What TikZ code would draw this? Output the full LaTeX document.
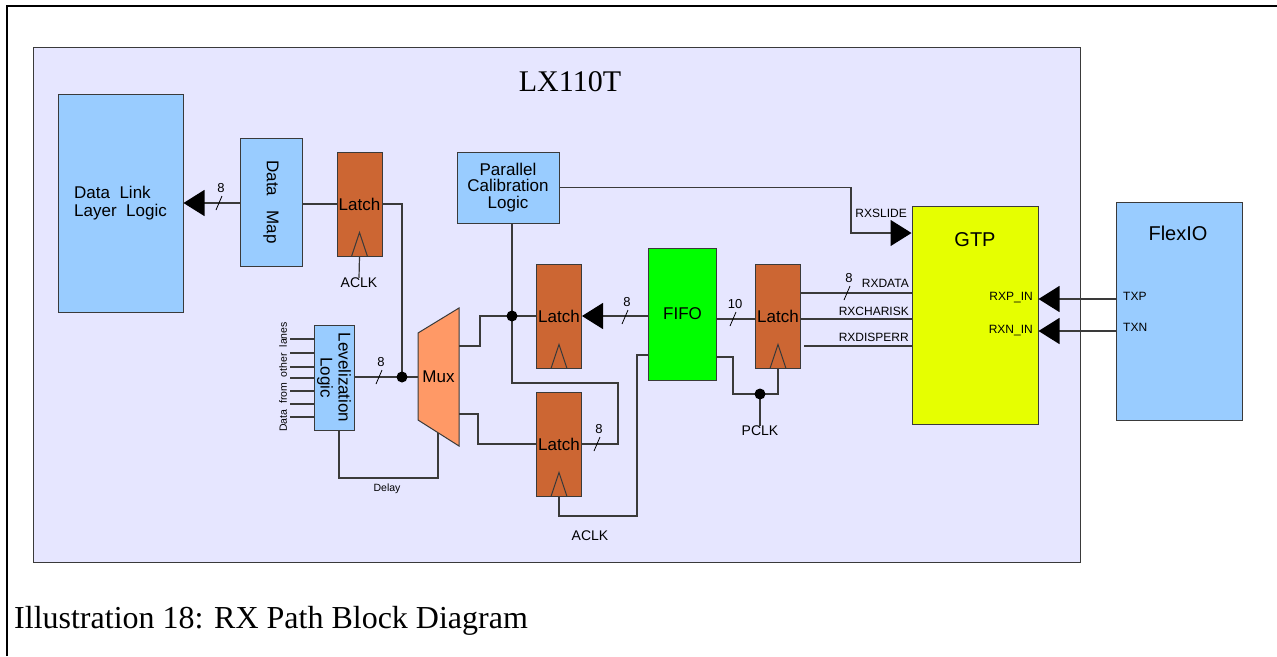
\documentclass[tikz,border=0pt]{standalone}
\usepackage{fontspec}
\setmainfont{Liberation Serif}
\setsansfont{Liberation Sans}
\usetikzlibrary{arrows.meta}
\definecolor{fpgabg}{HTML}{E6E6FF}
\definecolor{blkblue}{HTML}{99CCFF}
\definecolor{latchc}{HTML}{CC6633}
\definecolor{muxc}{HTML}{FF9966}
\definecolor{fifoc}{HTML}{00FF00}
\definecolor{gtpc}{HTML}{E6FF00}
\definecolor{wirec}{HTML}{3A3A3A}

\begin{document}
\begin{tikzpicture}[x=1pt, y=-1pt,
        every node/.style={font=\sffamily\fontsize{17}{18}\selectfont, inner sep=0pt},
        sig/.style={font=\sffamily\fontsize{12}{12}\selectfont},
        clkl/.style={font=\sffamily\fontsize{14}{14}\selectfont},
        busw/.style={font=\sffamily\fontsize{13}{13}\selectfont},
        tinyl/.style={font=\sffamily\fontsize{10.5}{10.5}\selectfont},
        boxl/.style={draw=wirec, line width=1pt},
        bluebox/.style={boxl, fill=blkblue},
        latchbox/.style={boxl, fill=latchc, minimum width=45pt, minimum height=104pt},
        wire/.style={draw=wirec, line width=1.2pt},
        arr/.style={wire, -{Triangle[length=21pt, width=26pt, color=black]}},
        busl/.style={draw=black, line width=0.8pt}
    ]
    \useasboundingbox (0,0) rectangle (1277,656);

    % =============== rahmen + FPGA ===============
    \draw[black, line width=1.5pt] (7,656) -- (7,6) -- (1277,6);
    \node[boxl, fill=fpgabg, minimum width=1047pt, minimum height=515pt] (fpga) at (556.5,304.5) {};
    \node[font=\rmfamily\fontsize{30}{30}\selectfont, anchor=base] (ttl) at (570,91) {LX110T};

    % =============== bloecke ===============
    \node[bluebox, minimum width=125pt, minimum height=218pt, align=left] (dll) at (120.5,203) {Data\ \ Link\\Layer\ \ Logic};
    \node[bluebox, minimum width=62pt, minimum height=128pt] (dmap) at (271,202) {};
    \node[rotate=-90] (dmapt) at (dmap.center) {Data\ \ \ Map};
    \node[latchbox] (latA) at (359.5,204) {Latch};
    \node[bluebox, minimum width=102pt, minimum height=71pt, align=center,
        font=\sffamily\fontsize{17}{16.5}\selectfont] (pcl) at (508,187.5) {Parallel\\Calibration\\Logic};
    \node[bluebox, minimum width=40pt, minimum height=105pt] (lev) at (334,377.5) {};
    \node[rotate=-90, align=center] (levt) at (lev.center) {Levelization\\Logic};
    \node[tinyl, rotate=90] (dol) at (283,377) {Data\ \ from\ \ other\ \ lanes};
    \node[latchbox] (latB) at (559,316) {Latch};
    \node[latchbox] (latC) at (559,444) {Latch};
    \node[boxl, fill=fifoc, minimum width=68pt, minimum height=132pt] (fifo) at (682.5,314) {FIFO};
    \node[latchbox] (latD) at (778,316) {Latch};
    \node[boxl, fill=gtpc, minimum width=126pt, minimum height=218pt] (gtp) at (975,315) {};
    \node[font=\sffamily\fontsize{20}{20}\selectfont] (gtpt) at (975,240) {GTP};
    \node[bluebox, minimum width=126pt, minimum height=218pt] (flex) at (1179,311) {};
    \node[font=\sffamily\fontsize{20}{20}\selectfont] (flext) at (1178,233) {FlexIO};

    % mux als trapez
    \draw[boxl, fill=muxc] (418,333) -- (459,308) -- (459,446) -- (418,420) -- cycle;
    \node (mux) at (438.5,377) {Mux};
    \coordinate (muxin) at (418,377);
    \coordinate (muxo1) at (459,346);
    \coordinate (muxo2) at (459,414);
    \coordinate (muxdl) at (438,433);

    % knoten
    \coordinate (lvj) at (402,377);
    \coordinate (pcj) at (512,316);
    \coordinate (pkj) at (760,394);

    % takt-dreiecke
    \foreach \n in {latA,latB,latC,latD}
    \draw[wirec, line width=1pt] (\n.south) +(-8,0) -- +(0,-24) -- +(8,0);

    % =============== leitungen ===============
    \draw[arr] (dmap.west |- 0,203) -- (dll.east |- 0,203);
    \draw[wire] (latA.west) -- (dmap.east |- latA.west);
    \draw[wire] (latA.east) -| (lvj);
    \draw[wire] (lev.east |- lvj) -- (muxin);
    \draw[wire] (lev.south -| 339,0) |- (438,478) -- (muxdl);
    \node[tinyl] (dly) at (387,489) {Delay};

    \draw[wire] (muxo1) -| (480,316) -- (latB.west);
    \draw[wire] (muxo2) -| (478,444) -- (latC.west);
    \draw[wire] (pcl.south -| pcj) -- (pcj) -- (512,383) -| (618,444) -- (latC.east);

    \node[clkl] (aclkA) at (359,283) {ACLK};
    \draw[wire] (latA.south) -- (aclkA.north);
    \node[clkl] (aclkC) at (590,536) {ACLK};
    \draw[wire] (latC.south) |- (637,516) |- (fifo.west |- 0,355);

    \draw[arr] (fifo.west |- latB.east) -- (latB.east);
    \draw[wire] (fifo.east |- 0,319) -- (latD.west |- 0,319);
    \draw[wire] (fifo.east |- 0,357) -| (733,394) -| (latD.south);
    \node[clkl] (pclk) at (760,431) {PCLK};
    \draw[wire] (pkj) -- (pclk.north);

    % GTP-signale
    \draw[wire] (latD.east |- 0,293) -- (gtp.west |- 0,293);
    \draw[wire] (latD.east |- 0,319) -- (gtp.west |- 0,319);
    \coordinate (dispE) at (804,346);
    \draw[wire] (dispE) -- (gtp.west |- dispE);
    \node[sig, anchor=east] (rxdata) at (909,283) {RXDATA};
    \node[sig, anchor=east] (rxchar) at (909,311) {RXCHARISK};
    \node[sig, anchor=east] (rxdisp) at (909,337) {RXDISPERR};
    \draw[arr] (pcl.east) -| (851,233) -- (gtp.west |- 0,233);
    \node[sig, anchor=east] (rxslide) at (907,213) {RXSLIDE};

    \node[sig, anchor=east] (rxpin) at (1033,298) {RXP\_IN};
    \node[sig, anchor=east] (rxnin) at (1033,331) {RXN\_IN};
    \draw[arr] (flex.west |- 0,299) -- (gtp.east |- 0,299);
    \draw[arr] (flex.west |- 0,331) -- (gtp.east |- 0,331);
    \node[sig, anchor=west] (txp) at (1123,296) {TXP};
    \node[sig, anchor=west] (txn) at (1123,327) {TXN};

    % lev-eingaenge
    \foreach \y in {339,353,367,378,391,404,417}
    \draw[wire] (lev.west |- 0,\y) -- ++(-24,0);

    % busbreiten
    \foreach \x/\y/\w in {219/203/8, 379/377/8, 625/317/8, 597/444/8, 733/319/10, 847/293/8} {
        \draw[busl] (\x-3,\y+7) -- (\x+3,\y-7);
        \node[busw] (bw\x) at (\x+2,\y-15) {\w};
    }

    % punkte
    \foreach \p in {lvj,pcj,pkj}
    \fill[black] (\p) circle (5.5);

    \node[font=\rmfamily\fontsize{32}{32}\selectfont, anchor=base west] (cap) at (14,628) {Illustration 18: RX Path Block Diagram};
\end{tikzpicture}
\end{document}
